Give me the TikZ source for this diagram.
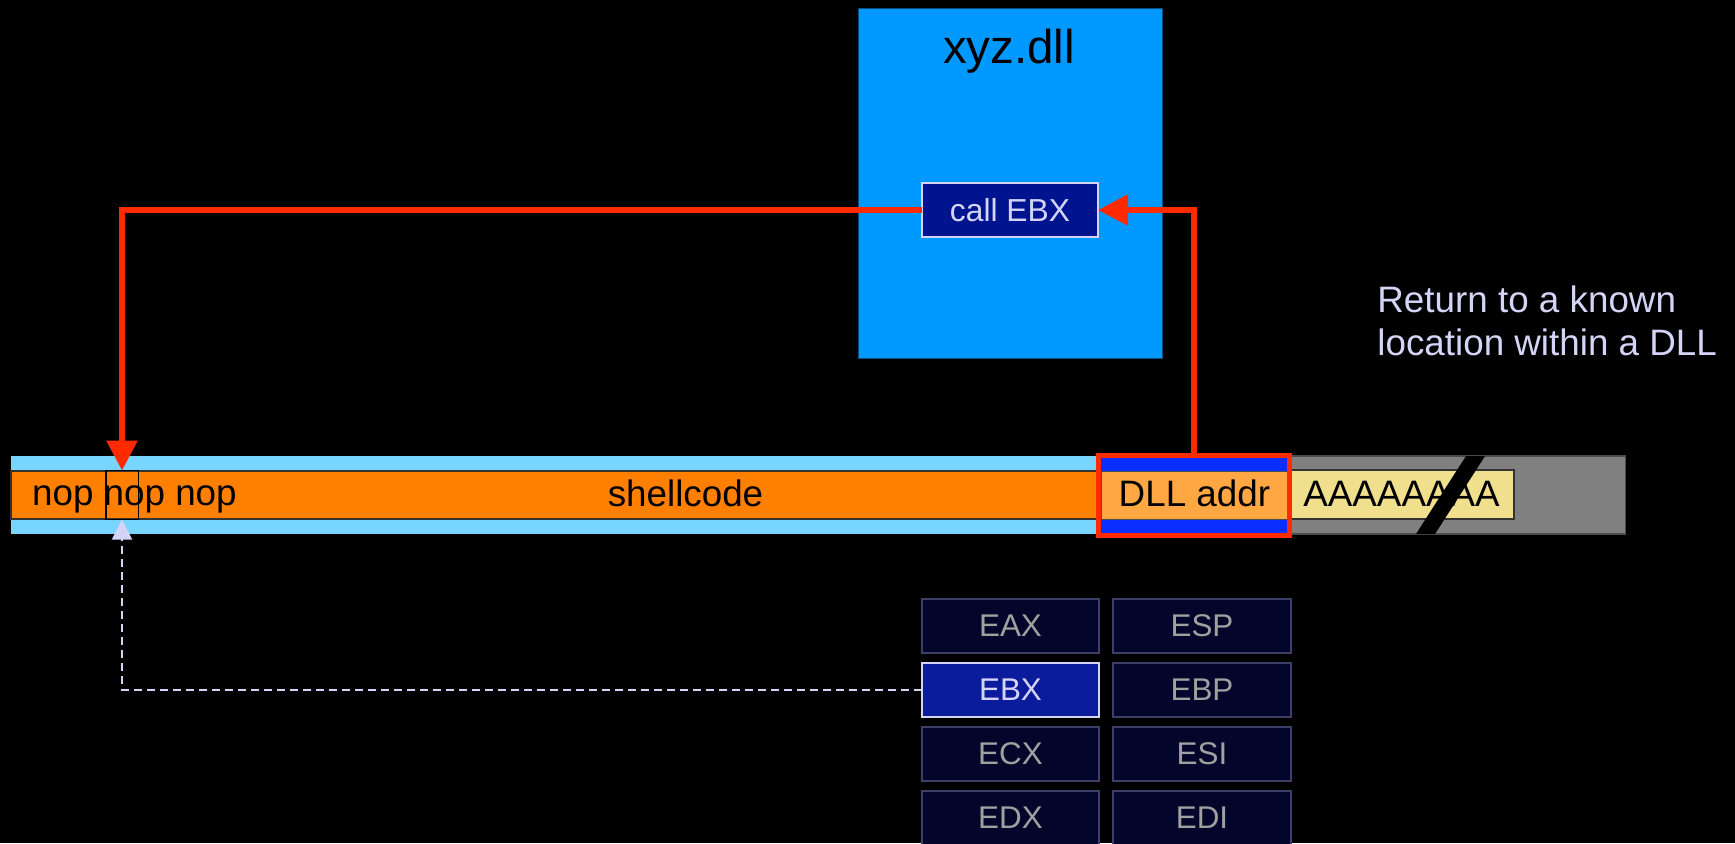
\documentclass[tikz,border=0pt]{standalone}
\usepackage{fontspec}
\setmainfont{Liberation Sans}
\usetikzlibrary{arrows.meta}
\definecolor{lightband}{HTML}{78D5FF}
\definecolor{orangeC}{HTML}{FF8000}
\definecolor{dllorange}{HTML}{FFA843}
\definecolor{bandblue}{HTML}{0A2EFF}
\definecolor{redC}{HTML}{FF2A00}
\definecolor{grayC}{HTML}{808080}
\definecolor{yellowC}{HTML}{F0DF8C}
\definecolor{xyzblue}{HTML}{0099FF}
\definecolor{xyzborder}{HTML}{0B4D80}
\definecolor{callfill}{HTML}{001490}
\definecolor{lavender}{HTML}{D4D4F6}
\definecolor{regfill}{HTML}{03062A}
\definecolor{regborder}{HTML}{3C3F66}
\definecolor{regtext}{HTML}{A0A0A0}
\definecolor{ebxfill}{HTML}{0A1B9C}
\begin{document}
\begin{tikzpicture}[x=0.5pt,y=-0.5pt,
  mainfont/.style={font=\fontsize{18.4pt}{22pt}\selectfont},
  regbox/.style={rectangle, inner sep=0pt, outer sep=0pt, minimum height=27pt,
    fill=regfill, draw=regborder, line width=0.6pt, text=regtext,
    font=\fontsize{15.7pt}{19pt}\selectfont},
  ebxbox/.style={regbox, fill=ebxfill, draw=lavender, line width=0.8pt, text=lavender},
  redarrow/.style={draw=redC, line width=3pt, -{Triangle[length=15pt,width=15pt]}},
  dasharrow/.style={draw=lavender, line width=1pt, dash pattern=on 4pt off 2.5pt,
    -{Triangle[length=10pt,width=10pt]}},
]
\fill[black] (0,0) rectangle (1735,843);
\useasboundingbox (0,0) rectangle (1735,843);

% memory bar
\fill[lightband] (11,456) rectangle (1100,534);
\filldraw[fill=orangeC, draw=black!80, line width=0.6pt] (11,471) rectangle (1098,519);
\node[draw=black, line width=0.8pt, rectangle, inner sep=0pt, outer sep=0pt,
  minimum width=16.3pt, minimum height=24.5pt] (nopbox) at (122,495) {};
\node[mainfont, anchor=base west, inner sep=0pt] (noptext) at (31.7,505) {nop nop nop};
\node[mainfont, anchor=base, inner sep=0pt] (shell) at (685.5,506) {shellcode};

% gray tail and AAAA
\filldraw[fill=grayC, draw=black!70, line width=0.6pt] (1290.7,456) rectangle (1625.7,534);
\node[draw=black!80, fill=yellowC, line width=0.6pt, rectangle, inner sep=0pt, outer sep=0pt,
  minimum width=111.65pt, minimum height=24.5pt] (aaaa) at (1402.35,494.5) {};
\node[mainfont, anchor=base, inner sep=0pt] (aaaatext) at (1401.5,506.7) {AAAAAAAA};
\fill[black] (1466,456) -- (1485,456) -- (1435,534) -- (1416,534) -- cycle;

% DLL addr slot
\fill[bandblue] (1101,458) rectangle (1287,471);
\fill[bandblue] (1101,519) rectangle (1287,532.5);
\filldraw[fill=dllorange, draw=black!70, line width=0.5pt] (1101,471) rectangle (1287,519);
\node[mainfont, anchor=base, inner sep=0pt] (dlltext) at (1194.4,506.7) {DLL addr};
\node[draw=redC, line width=2.65pt, rectangle, inner sep=0pt, outer sep=0pt,
  minimum width=95.65pt, minimum height=40.2pt] (dll) at (1194,495.5) {};

% xyz.dll
\node[fill=xyzblue, draw=xyzborder, line width=0.5pt, rectangle, inner sep=0pt, outer sep=0pt,
  minimum width=152pt, minimum height=175pt] (xyz) at (1010,183) {};
\node[font=\fontsize{23.75pt}{28pt}\selectfont, anchor=base, inner sep=0pt] (xyztext) at (1009,63) {xyz.dll};
\node[fill=callfill, draw=lavender, line width=0.6pt, rectangle, inner sep=0pt, outer sep=0pt,
  minimum width=88pt, minimum height=27pt, text=lavender,
  font=\fontsize{15.9pt}{19pt}\selectfont] (callebx) at (1010,210) {call EBX};

% note
\node[mainfont, text=lavender, anchor=base west, inner sep=0pt] (ret1) at (1377,312) {Return to a known};
\node[mainfont, text=lavender, anchor=base west, inner sep=0pt] (ret2) at (1377,355) {location within a DLL};

% registers
\node[regbox, minimum width=88.5pt] (eax) at (1010.5,626) {EAX};
\node[ebxbox, minimum width=88.5pt] (ebx) at (1010.5,690) {EBX};
\node[regbox, minimum width=88.5pt] (ecx) at (1010.5,754) {ECX};
\node[regbox, minimum width=88.5pt] (edx) at (1010.5,818) {EDX};
\node[regbox, minimum width=89pt] (esp) at (1202,626) {ESP};
\node[regbox, minimum width=89pt] (ebp) at (1202,690) {EBP};
\node[regbox, minimum width=89pt] (esi) at (1202,754) {ESI};
\node[regbox, minimum width=89pt] (edi) at (1202,818) {EDI};

% connectors
\draw[redarrow] (dll.north) |- (callebx.east);
\draw[redarrow] (callebx.west) -| (nopbox.north);
\draw[dasharrow] (ebx.west) -| (nopbox.south);
\end{tikzpicture}
\end{document}
